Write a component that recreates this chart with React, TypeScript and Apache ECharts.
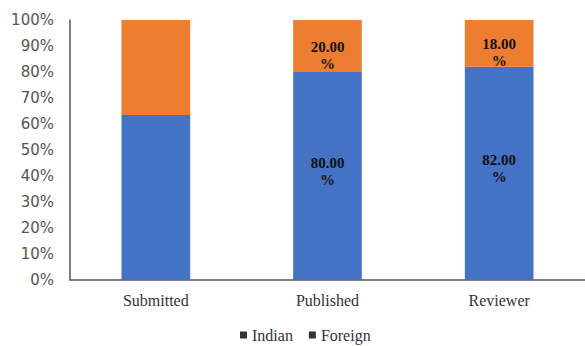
import React, { useEffect, useRef } from "react";
import * as echarts from "echarts";

const categories = ["Submitted", "Published", "Reviewer"];
const indian = [63.5, 80, 82];
const foreign = [36.5, 20, 18];
const showLabels = [false, true, true];
const yTicks = [0, 10, 20, 30, 40, 50, 60, 70, 80, 90, 100];

export default function App() {
  const ref = useRef<HTMLDivElement>(null);
  useEffect(() => {
    const chart = echarts.init(ref.current!, null, { renderer: "svg" });
    const labelStyle = (dy: number) => ({
      position: "inside",
      offset: [0, dy],
      fontFamily: "Liberation Serif",
      fontWeight: "bold",
      fontSize: 15,
      lineHeight: 17,
      color: "#111",
      formatter: (p: any) => p.value.toFixed(2) + "\n%",
    });
    const mk = (arr: number[]) =>
      arr.map((v, i) => ({ value: v, label: { show: showLabels[i] } }));
    const legendText = { fontFamily: "Liberation Serif", fontSize: 16, color: "#333" };
    chart.setOption({
      animation: false,
      textStyle: { fontFamily: "Liberation Serif" },
      grid: { left: 70, right: 0, top: 20, bottom: 66 },
      legend: {
        left: 235,
        top: 322,
        icon: "rect",
        itemWidth: 7,
        itemHeight: 7,
        itemGap: 16,
        itemStyle: { borderWidth: 0 },
        textStyle: legendText,
        data: [
          { name: "Indian", itemStyle: { color: "#333" }, textStyle: legendText },
          { name: "Foreign", itemStyle: { color: "#333" }, textStyle: legendText },
        ],
      },
      xAxis: {
        type: "category",
        data: categories,
        axisLine: { lineStyle: { color: "#555", width: 1.5 } },
        axisTick: { show: false },
        axisLabel: {
          margin: 12,
          fontFamily: "Liberation Serif",
          fontSize: 16,
          color: "#333",
        },
      },
      yAxis: {
        type: "value",
        min: 0,
        max: 100,
        interval: 10,
        axisLine: { show: true, lineStyle: { color: "#555", width: 1.5 } },
        axisTick: { show: false },
        splitLine: { show: false },
        axisLabel: {
          margin: 16,
          fontFamily: "DejaVu Sans",
          fontSize: 15,
          color: "#555",
          formatter: (v: number) => (yTicks.includes(v) ? v + "%" : ""),
        },
      },
      series: [
        {
          name: "Indian",
          type: "bar",
          stack: "total",
          barWidth: "40%",
          itemStyle: { color: "#4472C4" },
          label: labelStyle(-5),
          data: mk(indian),
        },
        {
          name: "Foreign",
          type: "bar",
          stack: "total",
          barWidth: "40%",
          itemStyle: { color: "#ED7D31" },
          label: labelStyle(9),
          data: mk(foreign),
        },
      ],
    });
    return () => chart.dispose();
  }, []);
  return <div ref={ref} style={{ width: 585, height: 346, position: "absolute", left: 0, top: 0, background: "#fff" }} />;
}
